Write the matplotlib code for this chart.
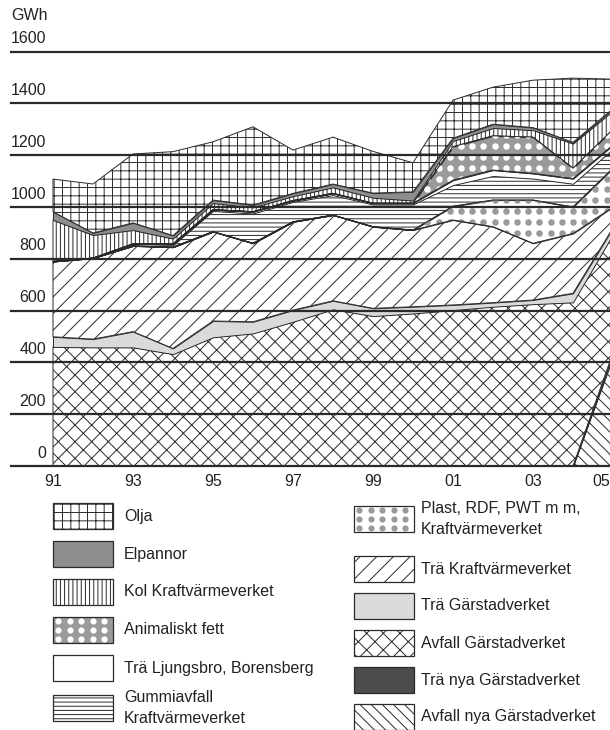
import numpy as np
import matplotlib.pyplot as plt
from matplotlib.patches import Rectangle
from matplotlib.transforms import offset_copy, ScaledTranslation

plt.rcParams["font.family"] = ["Liberation Sans", "DejaVu Sans"]
plt.rcParams["hatch.linewidth"] = 0.7
plt.rcParams["hatch.color"] = "#2a2a2a"

# data (GWh)
years = list(range(1991, 2006))
tick_years = [1991, 1993, 1995, 1997, 1999, 2001, 2003, 2005]
tick_labels = ["91", "93", "95", "97", "99", "01", "03", "05"]
gwh_ticks = [0, 200, 400, 600, 800, 1000, 1200, 1400, 1600]

avfall_nya = [0, 0, 0, 0, 0, 0, 0, 0, 0, 0, 0, 0, 0, 0, 420]
tra_nya = [0, 0, 0, 0, 0, 0, 0, 0, 0, 0, 0, 0, 0, 0, 18]
avfall_garstad = [460, 458, 458, 432, 497, 512, 557, 605, 579, 589, 602, 615, 625, 632, 457]
tra_garstad = [39, 32, 61, 22, 63, 45, 45, 33, 30, 26, 20, 16, 16, 35, 25]
tra_kraft = [291, 313, 331, 391, 345, 303, 341, 331, 315, 296, 328, 293, 219, 231, 80]
plast = [0, 0, 0, 0, 0, 0, 0, 0, 0, 0, 53, 103, 167, 102, 150]
gummi = [0, 0, 0, 8, 80, 115, 77, 77, 86, 99, 82, 93, 83, 90, 75]
ljungsbro = [0, 0, 8, 5, 5, 7, 5, 7, 5, 5, 19, 23, 20, 20, 15]
animaliskt = [0, 0, 0, 0, 0, 0, 0, 0, 0, 0, 129, 132, 140, 40, 60]
kol = [160, 89, 53, 20, 25, 17, 17, 23, 21, 10, 22, 30, 27, 95, 72]
elpannor = [32, 8, 28, 12, 12, 9, 11, 13, 18, 34, 11, 15, 10, 5, 8]
olja = [126, 189, 266, 324, 225, 302, 167, 181, 161, 112, 147, 143, 183, 248, 114]

EDGE = "#2a2a2a"
GRAY = "#9a9a9a"
TXT = "#222222"

# stacking order bottom -> top: (values, face, hatch, dot colour)
layers = [
    (avfall_nya, "white", "\\\\\\", None),
    (tra_nya, "#4d4d4d", None, None),
    (avfall_garstad, "white", "xx", None),
    (tra_garstad, "#d9dadc", None, None),
    (tra_kraft, "white", "//", None),
    (plast, "white", None, GRAY),
    (gummi, "white", "----", None),
    (ljungsbro, "white", None, None),
    (animaliskt, GRAY, None, "white"),
    (kol, "white", "||||", None),
    (elpannor, "#8e8e8e", None, None),
    (olja, "white", "++", None),
]

fig = plt.figure(figsize=(6.1, 7.3), dpi=100)
ax = fig.add_axes([11 / 610, (730 - 466) / 730, (613 - 11) / 610, (466 - 51.7) / 730])
ax.set_xlim(1991 - 42 / 40, 2005)
ax.set_ylim(0, 1600)

# dot texture grid (data coords)
dot_x = np.arange(1991.12, 2005.2, 0.28)
dot_y = np.arange(18, 1600, 42)
DX, DY = np.meshgrid(dot_x, dot_y)

base = np.zeros(len(years))
for vals, face, hatch, dots in layers:
    top = base + np.array(vals, dtype=float)
    poly = ax.fill_between(years, base, top, facecolor=face, edgecolor=EDGE,
                           linewidth=0.7, hatch=hatch, zorder=2)
    if dots is not None:
        sc = ax.scatter(DX.ravel(), DY.ravel(), s=22, color=dots, linewidths=0, zorder=3)
        sc.set_clip_path(poly.get_paths()[0], ax.transData)
        ax.fill_between(years, base, top, facecolor="none", edgecolor=EDGE,
                        linewidth=0.7, zorder=3)
    base = top

for v in gwh_ticks:
    ax.axhline(v, color=EDGE, linewidth=1.6, zorder=10, clip_on=False)

lab_tr = offset_copy(ax.transData, fig=fig, x=0, y=13, units="dots")
for v in gwh_ticks:
    ax.text(1991 - 7 / 40, v, str(v), ha="right", va="center", fontsize=11.5,
            color=TXT, transform=lab_tr)
fig.text(11 / 610, 1 - 15 / 730, "GWh", ha="left", va="center", fontsize=11.5, color=TXT)

ax.set_xticks(tick_years, tick_labels)
ax.set_yticks([])
ax.tick_params(axis="x", length=0, pad=5.5, labelsize=11.5, labelcolor=TXT)
# last label sits against the right edge, pull it inside
last = ax.get_xticklabels()[-1]
last.set_transform(last.get_transform() + ScaledTranslation(-12 / 100, 0, fig.dpi_scale_trans))
for s in ax.spines.values():
    s.set_visible(False)

# legend, drawn in pixel coordinates
lax = fig.add_axes([0, 0, 1, 1])
lax.set_xlim(0, 610)
lax.set_ylim(730, 0)
lax.axis("off")

legend_left = [
    ("Olja", olja, 516),
    ("Elpannor", elpannor, 554),
    ("Kol Kraftvärmeverket", kol, 592),
    ("Animaliskt fett", animaliskt, 630),
    ("Trä Ljungsbro, Borensberg", ljungsbro, 668),
    ("Gummiavfall\nKraftvärmeverket", gummi, 708),
]
legend_right = [
    ("Plast, RDF, PWT m m,\nKraftvärmeverket", plast, 519),
    ("Trä Kraftvärmeverket", tra_kraft, 569),
    ("Trä Gärstadverket", tra_garstad, 606),
    ("Avfall Gärstadverket", avfall_garstad, 643),
    ("Trä nya Gärstadverket", tra_nya, 680),
    ("Avfall nya Gärstadverket", avfall_nya, 717),
]
style = {id(vals): (face, hatch, dots) for vals, face, hatch, dots in layers}

SW, SH = 60, 26
for col_x, text_x, items in [(53, 124, legend_left), (354, 421, legend_right)]:
    for label, vals, yc in items:
        face, hatch, dots = style[id(vals)]
        rect = Rectangle((col_x, yc - SH / 2), SW, SH, facecolor=face, edgecolor=EDGE,
                         linewidth=0.9, hatch=hatch)
        lax.add_patch(rect)
        if dots is not None:
            gx, gy = np.meshgrid(np.arange(col_x + 5, col_x + SW, 11.5),
                                 np.arange(yc - SH / 2 + 4, yc + SH / 2, 9))
            sc = lax.scatter(gx.ravel(), gy.ravel(), s=20, color=dots, linewidths=0)
            sc.set_clip_path(rect)
        lax.text(text_x, yc, label, ha="left", va="center", fontsize=11.5,
                 color=TXT, linespacing=1.55)

fig.savefig("out.png", dpi=100)
